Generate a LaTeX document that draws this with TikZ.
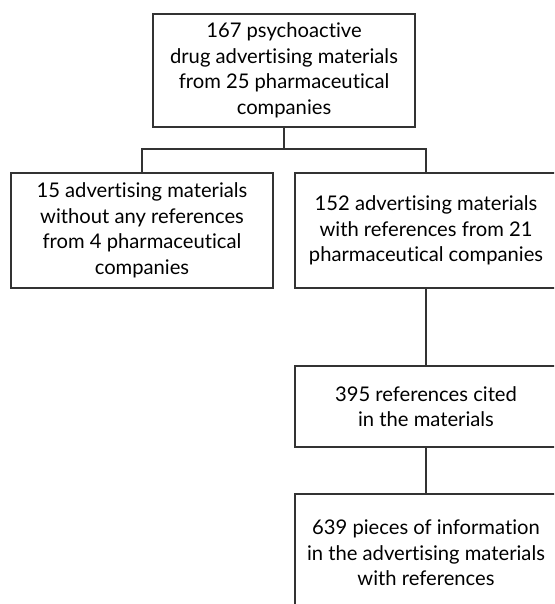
\documentclass[tikz,border=0pt]{standalone}
\usepackage{fontspec}
\setmainfont[Ligatures=NoCommon]{Lato}
\begin{document}
\begin{tikzpicture}[x=1pt,y=1pt,
  box/.style={draw=black!80, line width=1.3pt, minimum width=262pt, align=center,
    font=\fontsize{20.2}{25.5}\selectfont, inner sep=0pt},
  conn/.style={draw=black!80, line width=1.3pt}]
\useasboundingbox (0,0) rectangle (554,-604);
\clip (0,0) rectangle (554,-604);
\node[box, minimum height=113pt] (top) at (284,-70.5) {167 psychoactive\\drug advertising materials\\from 25 pharmaceutical\\companies};
\node[box, minimum height=115pt] (left) at (142,-230.5) {15 advertising materials\\without any references\\from 4 pharmaceutical\\companies};
\node[box, minimum height=115pt] (right) at (426,-230.5) {152 advertising materials\\with references from 21\\pharmaceutical companies};
\node[box, minimum height=81pt] (mid) at (426,-406.5) {395 references cited\\in the materials};
\node[box, minimum height=118pt] (bot) at (426,-553) {639 pieces of information\\in the advertising materials\\with references};
\coordinate (j) at (284,-149);
\draw[conn] (top.south) -- (j);
\draw[conn] (left.north) |- (j) -| (right.north);
\draw[conn] (right.south) -- (mid.north);
\draw[conn] (mid.south) -- (bot.north);
\end{tikzpicture}
\end{document}
